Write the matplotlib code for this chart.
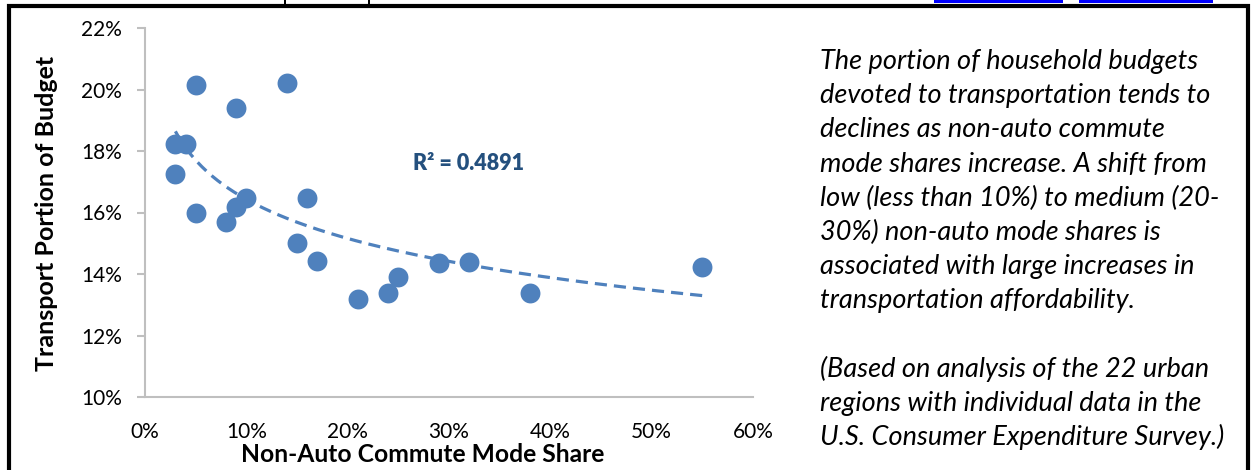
import numpy as np
import matplotlib
matplotlib.use("Agg")
import matplotlib.pyplot as plt
from matplotlib.ticker import PercentFormatter, MultipleLocator
from matplotlib.patches import Rectangle

# values (percent)
mode_share = [3, 4, 3, 5, 5, 9, 8, 9, 10, 14, 16, 15, 17, 21, 24, 25, 29, 32, 38, 55]
transport_budget = [18.23, 18.23, 17.25, 20.15, 15.97, 19.41, 15.68, 16.19, 16.47, 20.20,
                    16.46, 15.00, 14.42, 13.18, 13.37, 13.91, 14.37, 14.39, 13.39, 14.22]
r2_label = "R² = 0.4891"

note_lines = [
    "The portion of household budgets",
    "devoted to transportation tends to",
    "declines as non-auto commute",
    "mode shares increase. A shift from",
    "low (less than 10%) to medium (20-",
    "30%) non-auto mode shares is",
    "associated with large increases in",
    "transportation affordability.",
    "",
    "(Based on analysis of the 22 urban",
    "regions with individual data in the",
    "U.S. Consumer Expenditure Survey.)",
]

blue = "#4F81BD"
grey = "#BFBFBF"
plt.rcParams["font.family"] = ["Lato", "DejaVu Sans"]

W, H = 1252, 470
fig = plt.figure(figsize=(W / 100, H / 100), dpi=100)
ax = fig.add_axes([145 / W, 1 - 397 / H, (753 - 145) / W, (397 - 28) / H])

ax.scatter(mode_share, transport_budget, s=205, color=blue, linewidths=0, zorder=3)

# logarithmic trendline, as Excel draws it
x = np.array(mode_share, dtype=float)
y = np.array(transport_budget, dtype=float)
b, a = np.polyfit(np.log(x), y, 1)
xs = np.linspace(x.min(), x.max(), 200)
ax.plot(xs, a + b * np.log(xs), color=blue, lw=2.3, ls=(0, (3.8, 2.2)), zorder=2)

ax.text(26.4, 17.6, r2_label, color="#24507E", fontsize=15.5, fontweight="heavy", va="center")

ax.set_xlim(0, 60)
ax.set_ylim(10, 22)
ax.xaxis.set_major_locator(MultipleLocator(10))
ax.yaxis.set_major_locator(MultipleLocator(2))
ax.xaxis.set_major_formatter(PercentFormatter(100, decimals=0))
ax.yaxis.set_major_formatter(PercentFormatter(100, decimals=0))
for side in ["top", "right"]:
    ax.spines[side].set_visible(False)
for side in ["left", "bottom"]:
    ax.spines[side].set_color(grey)
    ax.spines[side].set_linewidth(1.5)
ax.tick_params(axis="x", length=0, pad=18, labelsize=15, colors="black")
ax.tick_params(axis="y", length=5.5, width=1.5, color=grey, pad=11, labelsize=15)

ax.set_xlabel("Non-Auto Commute Mode Share", fontsize=17.7, fontweight="bold")
ax.xaxis.set_label_coords(0.456, -0.125)
ax.set_ylabel("Transport Portion of Budget", fontsize=18, fontweight="bold")
ax.yaxis.set_label_coords(-0.143, 0.497)

# side note
for i, line in enumerate(note_lines):
    fig.text(820 / W, 1 - (69 + i * 34.2) / H, line, fontsize=19.5, style="italic",
             ha="left", va="baseline")

# page frame and bits of the cut-off heading
fig.patches.append(Rectangle((9 / W, -0.2), (1247.5 - 9) / W, 1.2 - 5.5 / H,
                             transform=fig.transFigure, fill=False, lw=3, ec="black"))
for x0, x1 in [(934, 1063), (1079, 1213)]:
    fig.patches.append(Rectangle((x0 / W, 1 - 3 / H), (x1 - x0) / W, 3 / H,
                                 transform=fig.transFigure, color="#0000FF", lw=0))
for xm in [284, 368]:
    fig.patches.append(Rectangle((xm / W, 1 - 5 / H), 2 / W, 5 / H,
                                 transform=fig.transFigure, color="black", lw=0))

fig.savefig("out.png", dpi=100)
